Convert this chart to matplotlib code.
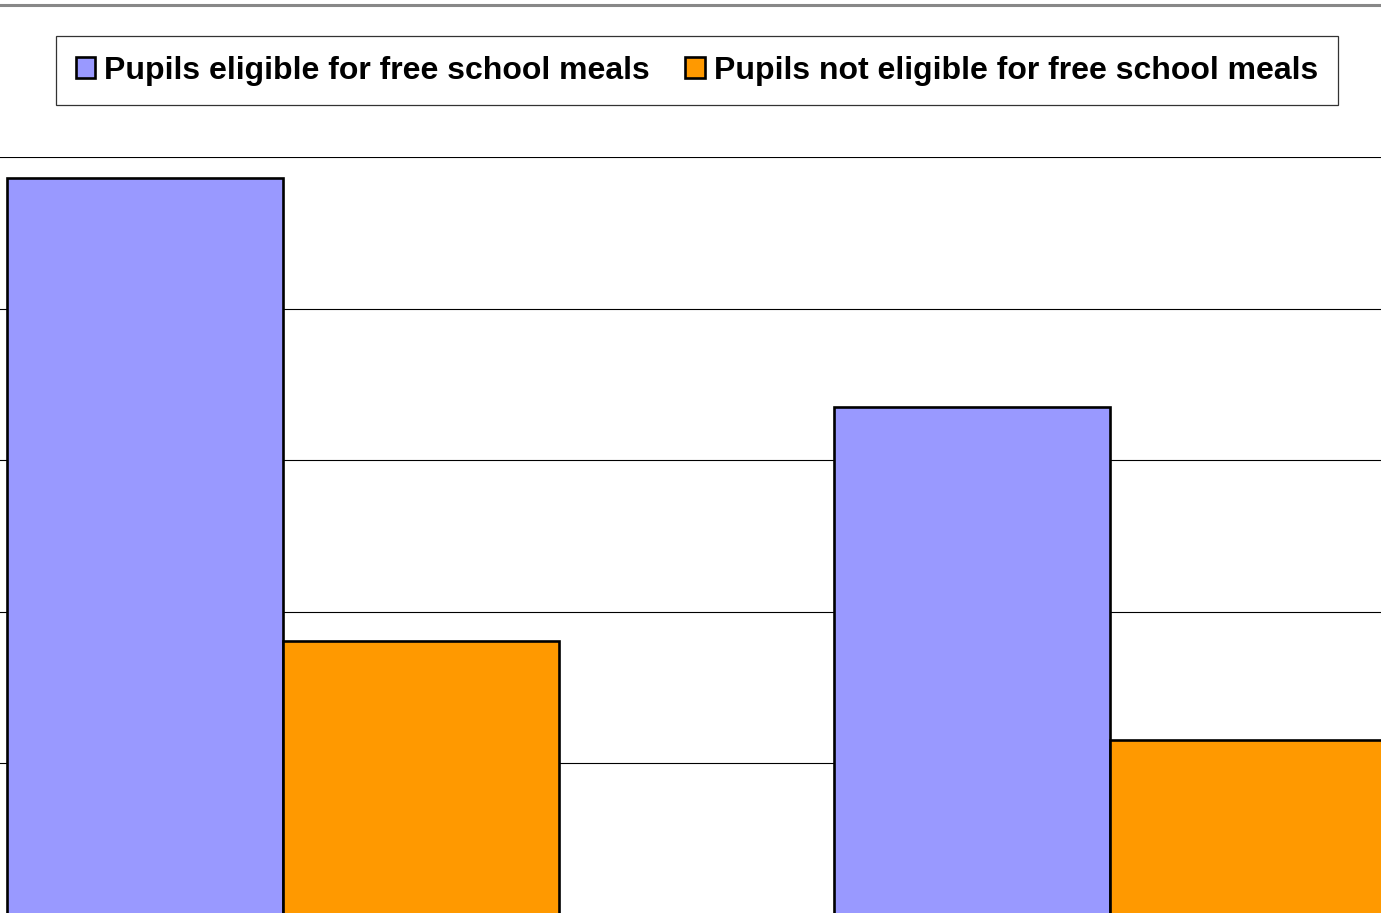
import numpy as np
import matplotlib.pyplot as plt
from matplotlib.lines import Line2D
from matplotlib.patches import Patch

plt.rcParams['font.family'] = ['Liberation Sans', 'DejaVu Sans']

categories = ['Group A', 'Group B']
series_names = ['Pupils eligible for free school meals',
                'Pupils not eligible for free school meals']
fsm = [48.6, 33.5]
non_fsm = [18.05, 11.5]
colors = ['#9999FF', '#FF9900']

W, H = 1381, 913
fig = plt.figure(figsize=(W / 100, H / 100), dpi=100)

# plot area runs past the picture edges (the source is a crop)
left_px, right_px = -130.5, 1523.5
zero_px, top_px = 914.5, 157
ax = fig.add_axes([left_px / W, (H - zero_px) / H,
                   (right_px - left_px) / W, (zero_px - top_px) / H])

x = np.arange(len(categories))
w = 1 / 3
ax.bar(x - w / 2, fsm, w, color=colors[0], edgecolor='black', linewidth=1.9, zorder=3)
ax.bar(x + w / 2, non_fsm, w, color=colors[1], edgecolor='black', linewidth=1.9, zorder=3)

ax.set_xlim(-0.5, 1.5)
ax.set_ylim(0, 50)
ax.set_yticks([10, 20, 30, 40, 50])
ax.yaxis.grid(True, color='black', linewidth=0.8, zorder=0)
ax.set_xticks([])
ax.tick_params(left=False, labelleft=False)
for s in ax.spines.values():
    s.set_visible(False)

# top gridline looks gray
ax.axhline(50, color='#555555', linewidth=1.2, zorder=1)

# chart border line at the very top
fig.add_artist(Line2D([0, 1], [1 - 5.5 / H, 1 - 5.5 / H], color='#888888',
                      linewidth=2.2, transform=fig.transFigure))

handles = [Patch(facecolor=c, edgecolor='black', linewidth=1.9) for c in colors]
leg = fig.legend(handles, series_names, ncol=2, loc='center',
                 bbox_to_anchor=(697 / W, 1 - 70.5 / H),
                 frameon=True, fancybox=False, borderaxespad=0,
                 prop={'weight': 'bold', 'size': 23},
                 handlelength=0.62, handleheight=0.62, handletextpad=0.28,
                 columnspacing=1.1, borderpad=0.62)
leg.get_frame().set_edgecolor('black')
leg.get_frame().set_linewidth(0.9)

fig.savefig('out.png', dpi=100)
